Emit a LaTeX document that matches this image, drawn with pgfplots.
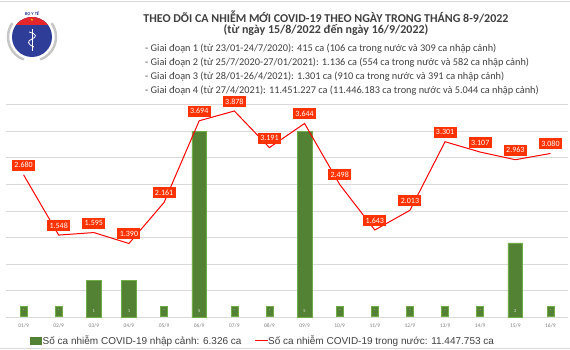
\documentclass[border=0pt]{standalone}
\usepackage{pgfplots}
\pgfplotsset{compat=1.18}
\usepackage{fontspec}
\setmainfont{Carlito}
\newfontfamily\arialfont{Liberation Sans}
\definecolor{barGreen}{HTML}{548235}
\definecolor{barEdge}{HTML}{70AD47}
\definecolor{lineRed}{HTML}{FF0000}
\definecolor{lblRed}{HTML}{FF3300}
\definecolor{gridGray}{HTML}{D9D9D9}
\definecolor{txtGray}{HTML}{404040}
\definecolor{logoBlue}{HTML}{2E3D98}
\definecolor{logoRed}{HTML}{E3262B}
\begin{document}
\begin{tikzpicture}
\useasboundingbox (0,0) rectangle (570pt,350pt);
\fill[white] (0,0) rectangle (570pt,350pt);
\draw[gridGray, line width=0.8pt] (0,349pt) -- (570pt,349pt);
\draw[gridGray, line width=0.8pt] (0,2pt) -- (570pt,2pt);
% logo
\draw[gray!45, line width=2.5pt] (32pt,313pt) ++(145:24pt) arc (145:250:24pt);
\draw[gray!45, line width=2.5pt] (32pt,313pt) ++(35:24pt) arc (35:-70:24pt);
\fill[logoBlue] (32pt,313pt) circle (20pt);
\begin{scope}
\clip (32pt,313pt) circle (20pt);
\fill[logoRed] (8pt,325pt) rectangle (56pt,336pt);
\end{scope}
\node[text=yellow, font=\fontsize{6}{6}\selectfont, inner sep=0pt] at (32pt,329.5pt) {$\star$};
\draw[white, line width=1pt] (32pt,321pt) -- (32pt,299pt);
\draw[white, line width=0.8pt] (29pt,318pt) .. controls (37pt,316pt) and (37pt,313pt) .. (32pt,311pt) .. controls (27pt,309pt) and (27pt,306pt) .. (34pt,303pt);
\node[text=logoBlue, font=\bfseries\fontsize{4.5}{5}\selectfont, inner sep=0pt] at (32pt,336.5pt) {BỘ Y TẾ};
% titles
\node[font=\bfseries\fontsize{12}{14}\selectfont, text=txtGray, inner sep=0pt] at (326pt,333.5pt) {THEO DÕI CA NHIỄM MỚI COVID-19 THEO NGÀY TRONG THÁNG 8-9/2022};
\node[font=\bfseries\fontsize{12}{14}\selectfont, text=txtGray, inner sep=0pt] at (326pt,320pt) {(từ ngày 15/8/2022 đến ngày 16/9/2022)};
\begin{scope}[every node/.style={anchor=base west, inner sep=0pt, text=txtGray, font=\fontsize{10.3}{11}\selectfont}]
\node at (145pt,298.5pt) {- Giai đoạn 1 (từ 23/01-24/7/2020): 415 ca (106 ca trong nước và 309 ca nhập cảnh)};
\node at (145pt,284.3pt) {- Giai đoạn 2 (từ 25/7/2020-27/01/2021): 1.136 ca (554 ca trong nước và 582 ca nhập cảnh)};
\node at (145pt,270.2pt) {- Giai đoạn 3 (từ 28/01-26/4/2021): 1.301 ca (910 ca trong nước và 391 ca nhập cảnh)};
\node at (145pt,256pt) {- Giai đoạn 4 (từ 27/4/2021): 11.451.227 ca (11.446.183 ca trong nước và 5.044 ca nhập cảnh)};
\end{scope}
% grid axis
\begin{axis}[at={(6pt,32.5pt)}, anchor=south west, scale only axis, width=562pt, height=213pt,
  xmin=-0.5, xmax=15.5, ymin=0, ymax=4000, ytick={0,500,...,4000}, yticklabels={},
  ymajorgrids, grid style={gridGray, line width=0.8pt}, axis line style={draw=none},
  major tick length=0pt, xtick={0,...,15},
  xticklabels={01/9,02/9,03/9,04/9,05/9,06/9,07/9,08/9,09/9,10/9,11/9,12/9,13/9,14/9,15/9,16/9},
  xticklabel style={font=\fontsize{5.5}{6}\selectfont, text=gray, yshift=-3pt}]
\end{axis}
% bars axis
\begin{axis}[at={(6pt,32.5pt)}, anchor=south west, scale only axis, width=562pt, height=213pt,
  xmin=-0.5, xmax=15.5, ymin=0, ymax=5.7142857, axis lines=none, ticks=none, clip=false]
\addplot[ybar, bar width=14.7pt, fill=barGreen, draw=barEdge, line width=0.6pt]
  coordinates {(2,1) (3,1) (5,5) (8,5) (14,2)};
\addplot[draw=none, mark=none, point meta=explicit symbolic, nodes near coords,
  every node near coord/.style={anchor=south, fill=barGreen, draw=barEdge, line width=0.4pt, text=white,
  font=\fontsize{4}{4}\selectfont, minimum width=7pt, minimum height=10pt, inner sep=0pt, yshift=1.5pt}]
  coordinates {(0,0) [-] (1,0) [-] (4,0) [-] (6,0) [-] (7,0) [-] (9,0) [-] (10,0) [-] (11,0) [-] (12,0) [-] (13,0) [-] (15,0) [-]};
\addplot[draw=none, mark=none, point meta=explicit symbolic, nodes near coords,
  every node near coord/.style={anchor=south, text=white!85!barGreen,
  font=\fontsize{4.5}{4.5}\selectfont, minimum height=10pt, inner sep=0pt, yshift=1.5pt}]
  coordinates {(2,0) [1] (3,0) [1] (5,0) [5] (8,0) [5] (14,0) [2]};
\end{axis}
% line axis
\begin{axis}[at={(6pt,32.5pt)}, anchor=south west, scale only axis, width=562pt, height=213pt,
  xmin=-0.5, xmax=15.5, ymin=0, ymax=4000, axis lines=none, ticks=none, clip=false]
\addplot[lineRed, line width=1pt, mark=none, point meta=explicit symbolic, nodes near coords,
  every node near coord/.style={anchor=south, fill=lblRed, text=white, font=\fontsize{8}{8}\selectfont,
  inner sep=1pt, minimum width=23pt, minimum height=11pt, yshift=3.5pt}]
  coordinates {(0,2680) [2.680] (1,1548) [1.548] (2,1595) [1.595] (3,1390) [1.390] (4,2161) [2.161]
  (5,3694) [3.694] (6,3878) [3.878] (7,3191) [3.191] (8,3644) [3.644] (9,2498) [2.498]
  (10,1643) [1.643] (11,2013) [2.013] (12,3301) [3.301] (13,3107) [3.107] (14,2963) [2.963] (15,3080) [3.080]};
\end{axis}
% legend
\fill[barGreen] (30pt,5pt) rectangle (42pt,13pt);
\draw[lineRed, line width=1.2pt] (255pt,9.5pt) -- (268pt,9.5pt);
\node[anchor=base west, inner sep=0pt, font=\arialfont\fontsize{10}{12}\selectfont, text=txtGray] at (42.5pt,5pt) {Số ca nhiễm COVID-19 nhập cảnh: 6.326 ca};
\node[anchor=base west, inner sep=0pt, font=\arialfont\fontsize{10}{12}\selectfont, text=txtGray] at (268pt,5pt) {Số ca nhiễm COVID-19 trong nước: 11.447.753 ca};
\end{tikzpicture}
\end{document}
